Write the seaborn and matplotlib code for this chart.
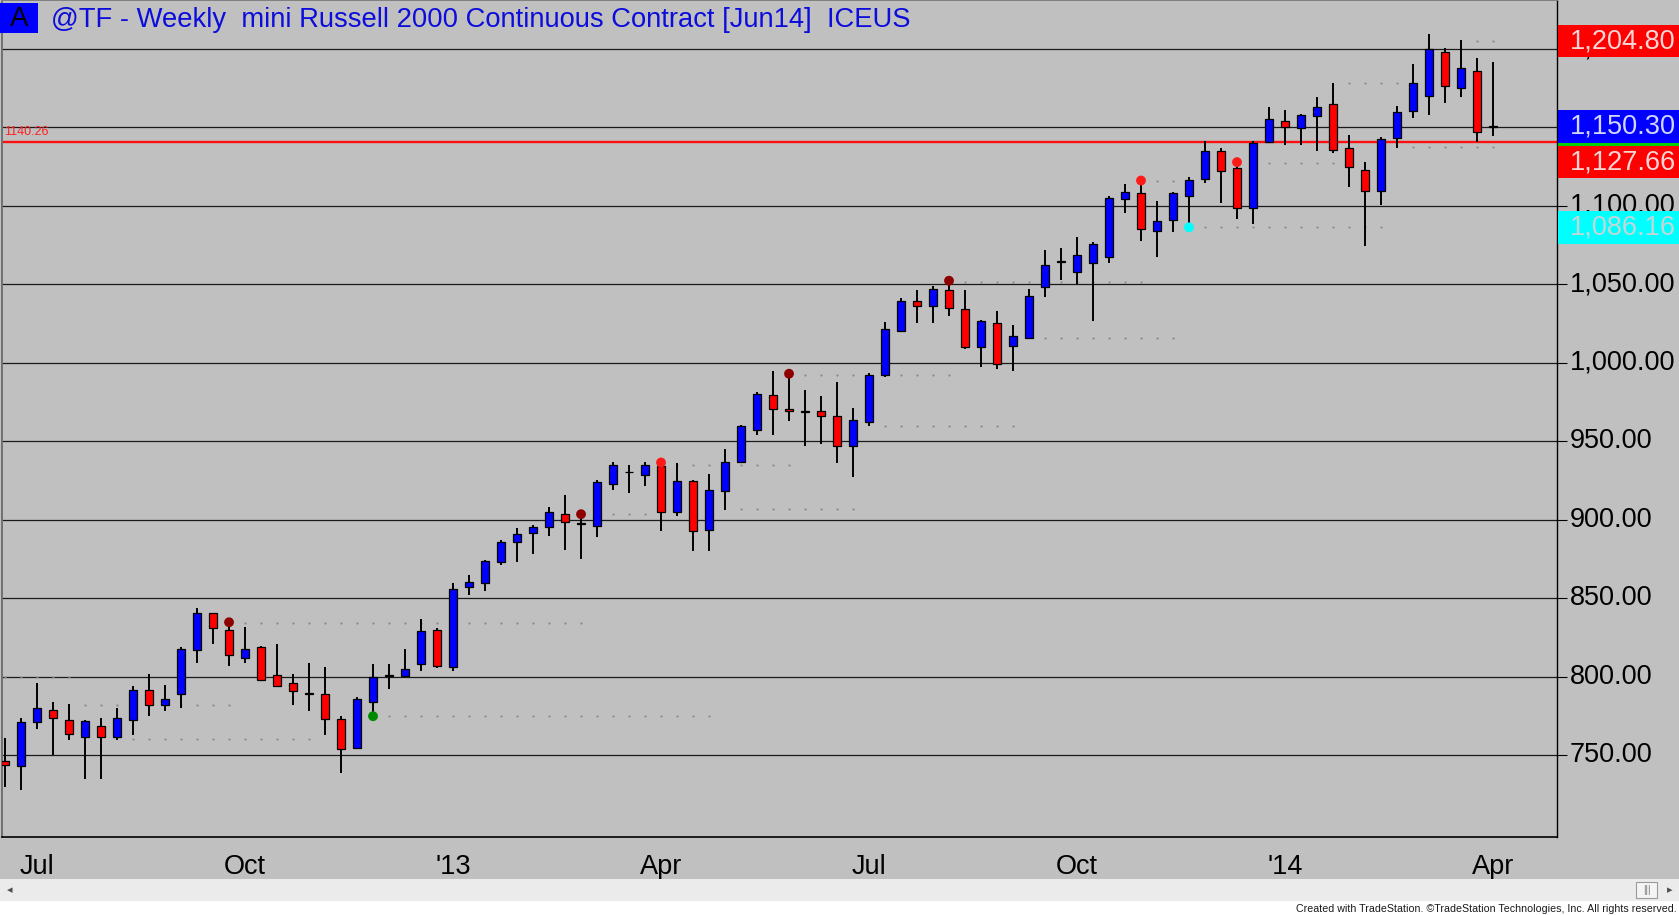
import numpy as np
import pandas as pd
import matplotlib
matplotlib.use("Agg")
import matplotlib.pyplot as plt
from matplotlib.patches import Rectangle
import seaborn as sns

# weekly bars, dated by the Friday that ends each week
dates = pd.date_range("2012-06-22", periods=94, freq="W-FRI")

opens = [746.5, 743, 771, 779, 772.7, 762, 768.7, 761.5, 772.5, 791.5,
         782, 789, 817, 840.5, 830, 812, 819, 801, 796, 789,
         789, 773, 755, 784, 800.5, 800.5, 808, 830, 806, 857.4,
         859.6, 873.4, 886, 891.7, 895.7, 903.6, 897.5, 896, 923, 930.2,
         928.7, 934.5, 905, 925, 893.6, 918.5, 937, 957, 979.4, 970.8,
         968.5, 969, 966, 946.8, 962, 992, 1020, 1039.3, 1036, 1046.3,
         1034, 1010, 1025.5, 1010.4, 1015.5, 1048, 1064.3, 1058, 1063.7, 1067,
         1104, 1108.3, 1084, 1091, 1106.4, 1117, 1134.8, 1124, 1098.5, 1140.8,
         1154, 1149.3, 1157.3, 1164.5, 1136.8, 1122.8, 1109, 1143, 1160, 1170,
         1197.5, 1175, 1185.6, 1150.3]
highs = [761, 774, 796, 784, 783, 772.5, 774, 780, 794, 802,
         795, 819, 844, 841, 833, 832, 819.5, 821, 802, 809,
         806, 775, 787, 808, 808, 818, 837, 831, 860, 865,
         874.4, 887, 894.7, 896.4, 908, 916, 902, 925.5, 937, 935,
         937, 936, 936, 925.3, 929, 945, 960.2, 981.5, 994.7, 991.5,
         982.5, 978.7, 988, 971, 993.4, 1026, 1041, 1046, 1049, 1051,
         1046, 1027, 1033, 1024, 1047, 1072, 1073, 1080, 1077, 1106,
         1114, 1115, 1103, 1108.5, 1118.5, 1141, 1137, 1126, 1141, 1163,
         1161, 1158.4, 1169, 1178, 1145, 1128, 1144, 1163.4, 1190, 1209,
         1200.6, 1205.3, 1193.7, 1191.5]
lows = [730, 728, 767, 750, 760, 735, 735, 760, 763, 775,
        778, 780, 809, 821, 807, 809, 797.8, 794, 782, 778,
        763, 739, 754, 777, 792, 800, 804, 805.6, 804, 852,
        855, 871, 873, 878, 890, 881, 875, 889, 919, 917,
        921.7, 893, 902.5, 880, 880, 906, 936.6, 954, 954, 963,
        947, 948, 936.2, 927, 960, 991, 1019.8, 1025, 1025, 1029.7,
        1009, 997, 996, 995, 1015, 1042, 1052.7, 1050, 1026.8, 1063.7,
        1095.5, 1077.5, 1067, 1083.4, 1087.7, 1114.6, 1101.5, 1091.6, 1088.6, 1140.5,
        1138.7, 1138.7, 1134.5, 1133.8, 1111.6, 1074, 1100.6, 1137, 1155.6, 1158,
        1165.5, 1169, 1140.8, 1144.4]
closes = [744, 771, 780, 774, 763.6, 772, 762, 774, 791.5, 782,
          786, 818, 840.5, 831, 814, 818, 798, 794.5, 791, 789,
          773, 754, 786, 800, 800.5, 805, 829, 807, 856, 860.6,
          873.8, 885.7, 891, 895.3, 905.3, 898.3, 897.5, 924, 934.7, 930.2,
          934.7, 905, 925, 893, 918.7, 937, 959.6, 980, 970.6, 969,
          968.5, 966, 946.8, 963.5, 992.2, 1021.4, 1039, 1036, 1047, 1034.6,
          1010, 1026.5, 999, 1017, 1042.5, 1062, 1064.3, 1068.6, 1075.6, 1105,
          1108.5, 1085, 1090, 1108, 1116.3, 1134.8, 1122.3, 1098.5, 1139.8, 1155,
          1150, 1157.5, 1162.6, 1135.5, 1124.5, 1109, 1142.5, 1159.4, 1177.8, 1200,
          1176.3, 1187.3, 1147, 1150.3]

# indicator dots above/below bars
marker_bars = [14, 36, 49, 59, 41, 71, 77, 23, 74]
marker_prices = [834.8, 903.6, 993, 1052.2, 936.5, 1116, 1127.7, 775, 1086.2]
marker_kinds = ["dark", "dark", "dark", "dark", "red", "red", "red", "green", "cyan"]

# faint dotted levels: price, first bar, last bar
level_prices = [800, 782.4, 760.2, 834.5, 775.3, 903.6, 934.8, 906.6, 992,
                959.5, 1051.6, 1015.8, 1116, 1086.4, 1127.4, 1177.8, 1137.4, 1204.5]
level_first = [0, 5, 8, 15, 24, 37, 42, 46, 50, 55, 60, 65, 72, 75, 78, 84, 88, 92]
level_last = [4, 14, 19, 36, 44, 40, 49, 53, 59, 63, 71, 73, 73, 86, 83, 87, 93, 93]

# price flags on the right scale
flag_prices = [1204.80, 1138.5, 1127.66, 1150.30, 1086.16]
flag_texts = ["1,204.80", "", "1,127.66", "1,150.30", "1,086.16"]
flag_colors = ["#ff0000", "#00d000", "#ff0000", "#0000ff", "#00ffff"]
flag_text_colors = ["#f6d6d6", "#d0ffd0", "#f6d6d6", "#d4d4ff", "#c4d6d6"]

support_price = 1140.26
grid_prices = [750, 800, 850, 900, 950, 1000, 1050, 1100, 1150, 1200]

title = "@TF - Weekly  mini Russell 2000 Continuous Contract [Jun14]  ICEUS"

sns.set_style("white")
plt.rcParams["font.family"] = ["Liberation Sans", "DejaVu Sans"]

W, H = 1679, 915
BG = "#c0c0c0"
fig = plt.figure(figsize=(W / 100, H / 100), dpi=100, facecolor=BG)
ax = fig.add_axes([2 / W, 78 / H, 1555 / W, 837 / H])
ax.set_facecolor(BG)

df = pd.DataFrame({"date": dates, "open": opens, "high": highs,
                   "low": lows, "close": closes})
df["x"] = np.arange(len(df))
df["color"] = np.where(df.close > df.open, "#0000ff",
                       np.where(df.close < df.open, "#ff0000", "black"))
df["bottom"] = df[["open", "close"]].min(axis=1)
df["height"] = (df.close - df.open).abs().clip(lower=0.5)

for p in grid_prices:
    ax.axhline(p, color="#1a1a1a", lw=0.9, zorder=1)
ax.axhline(support_price, color="#ff1010", lw=1.7, zorder=1.2)
ax.text(0.0012, support_price + 3.0, f"{support_price:.2f}", color="#ff2020",
        fontsize=9, transform=ax.get_yaxis_transform(), va="bottom", ha="left")

# dotted levels
for lp, a, b in zip(level_prices, level_first, level_last):
    xs = np.arange(a, b + 1)
    ax.scatter(xs, np.full(len(xs), lp), s=2.5, color="#8a8a8a", lw=0, zorder=1.5)

# candles
ax.vlines(df.x, df.low, df.high, color="black", lw=1.4, zorder=2)
ax.bar(df.x, df.height, bottom=df.bottom, width=0.5, color=df.color,
       edgecolor="black", linewidth=0.9, zorder=3)

marks = pd.DataFrame({"x": marker_bars, "y": marker_prices, "kind": marker_kinds})
sns.scatterplot(data=marks, x="x", y="y", hue="kind", ax=ax, s=50, linewidth=0,
                palette={"dark": "#8e0000", "red": "#ff1a1a",
                         "green": "#008a00", "cyan": "#00ffff"},
                legend=False, zorder=4)

ax.set_xlim(-0.19, 97.0)
ax.set_ylim(698.1, 1230.9)
ax.set_xlabel("")
ax.set_ylabel("")

# month ticks at the first bar of each month
month = df.date.dt.month
first = df.index[month != month.shift()].tolist()[1:]
major = [i for i in first if df.date[i].month in (1, 4, 7, 10)]
minor = [i for i in first if i not in major]
labels = ["'" + df.date[i].strftime("%y") if df.date[i].month == 1
          else df.date[i].strftime("%b") for i in major]
ax.set_xticks(major, labels)
ax.set_xticks(minor, minor=True)
ax.tick_params(axis="x", which="major", length=10, width=0.8, color="black",
               labelsize=19.5, pad=2, labelcolor="black", direction="out")
ax.tick_params(axis="x", which="minor", length=5, width=0.8, color="black",
               direction="out")

ax.yaxis.tick_right()
ax.set_yticks(grid_prices, [f"{p:,.2f}" for p in grid_prices])
ax.tick_params(axis="y", which="major", length=7, width=0.8, color="black",
               labelsize=19.5, pad=2, labelcolor="black", direction="out",
               left=False, right=True)
for lab in ax.get_yticklabels():
    lab.set_verticalalignment("center")

for side, col, lw in [("right", "black", 1.0), ("bottom", "black", 1.2),
                      ("left", "#707070", 1.4), ("top", "#808080", 1.4)]:
    ax.spines[side].set_visible(True)
    ax.spines[side].set_color(col)
    ax.spines[side].set_linewidth(lw)

# price flags at the right edge
box_h = 32.5 / (837 / (1230.9 - 698.1))
for k, (fp, ft, fc, tc) in enumerate(zip(flag_prices, flag_texts, flag_colors,
                                         flag_text_colors)):
    ax.add_patch(Rectangle((1.0007, fp - box_h / 2), 0.079, box_h, facecolor=fc,
                           edgecolor="none", transform=ax.get_yaxis_transform(),
                           clip_on=False, zorder=6 + k * 0.1))
    if ft:
        ax.text(1.0765, fp, ft, color=tc, fontsize=19.5, ha="right", va="center",
                transform=ax.get_yaxis_transform(), clip_on=False,
                zorder=6.05 + k * 0.1)

# title block
fig.add_artist(Rectangle((0, 882 / H), 37.5 / W, 30 / H, facecolor="#0000ff",
                         edgecolor="none", transform=fig.transFigure))
fig.text(19 / W, 896 / H, "A", color="black", fontsize=20, ha="center", va="center")
fig.text(51 / W, 895 / H, title, color="#0c0cdc", fontsize=19.7, ha="left",
         va="center")

# scroll bar and footer strip
fig.add_artist(Rectangle((0, 14 / H), 1, 22 / H, facecolor="#ebebeb",
                         edgecolor="none", transform=fig.transFigure))
fig.add_artist(Rectangle((0, 0), 1, 14 / H, facecolor="white",
                         edgecolor="none", transform=fig.transFigure))
fig.add_artist(Rectangle((1636 / W, 17 / H), 21 / W, 16 / H, facecolor="#f4f4f4",
                         edgecolor="#9a9a9a", lw=0.8, transform=fig.transFigure))
fig.text(1646.5 / W, 25 / H, "|||", color="#707070", fontsize=7, ha="center",
         va="center")
fig.text(10 / W, 25 / H, "◂", color="#505050", fontsize=8, ha="center", va="center",
         family=["DejaVu Sans"])
fig.text(1670 / W, 25 / H, "▸", color="#505050", fontsize=8, ha="center",
         va="center", family=["DejaVu Sans"])
fig.text(1677 / W, 6 / H,
         "Created with TradeStation. \u00a9TradeStation Technologies, Inc. All rights reserved.",
         color="#1a1a1a", fontsize=7.7, ha="right", va="center")

fig.savefig("out.png", dpi=100, facecolor=BG)
